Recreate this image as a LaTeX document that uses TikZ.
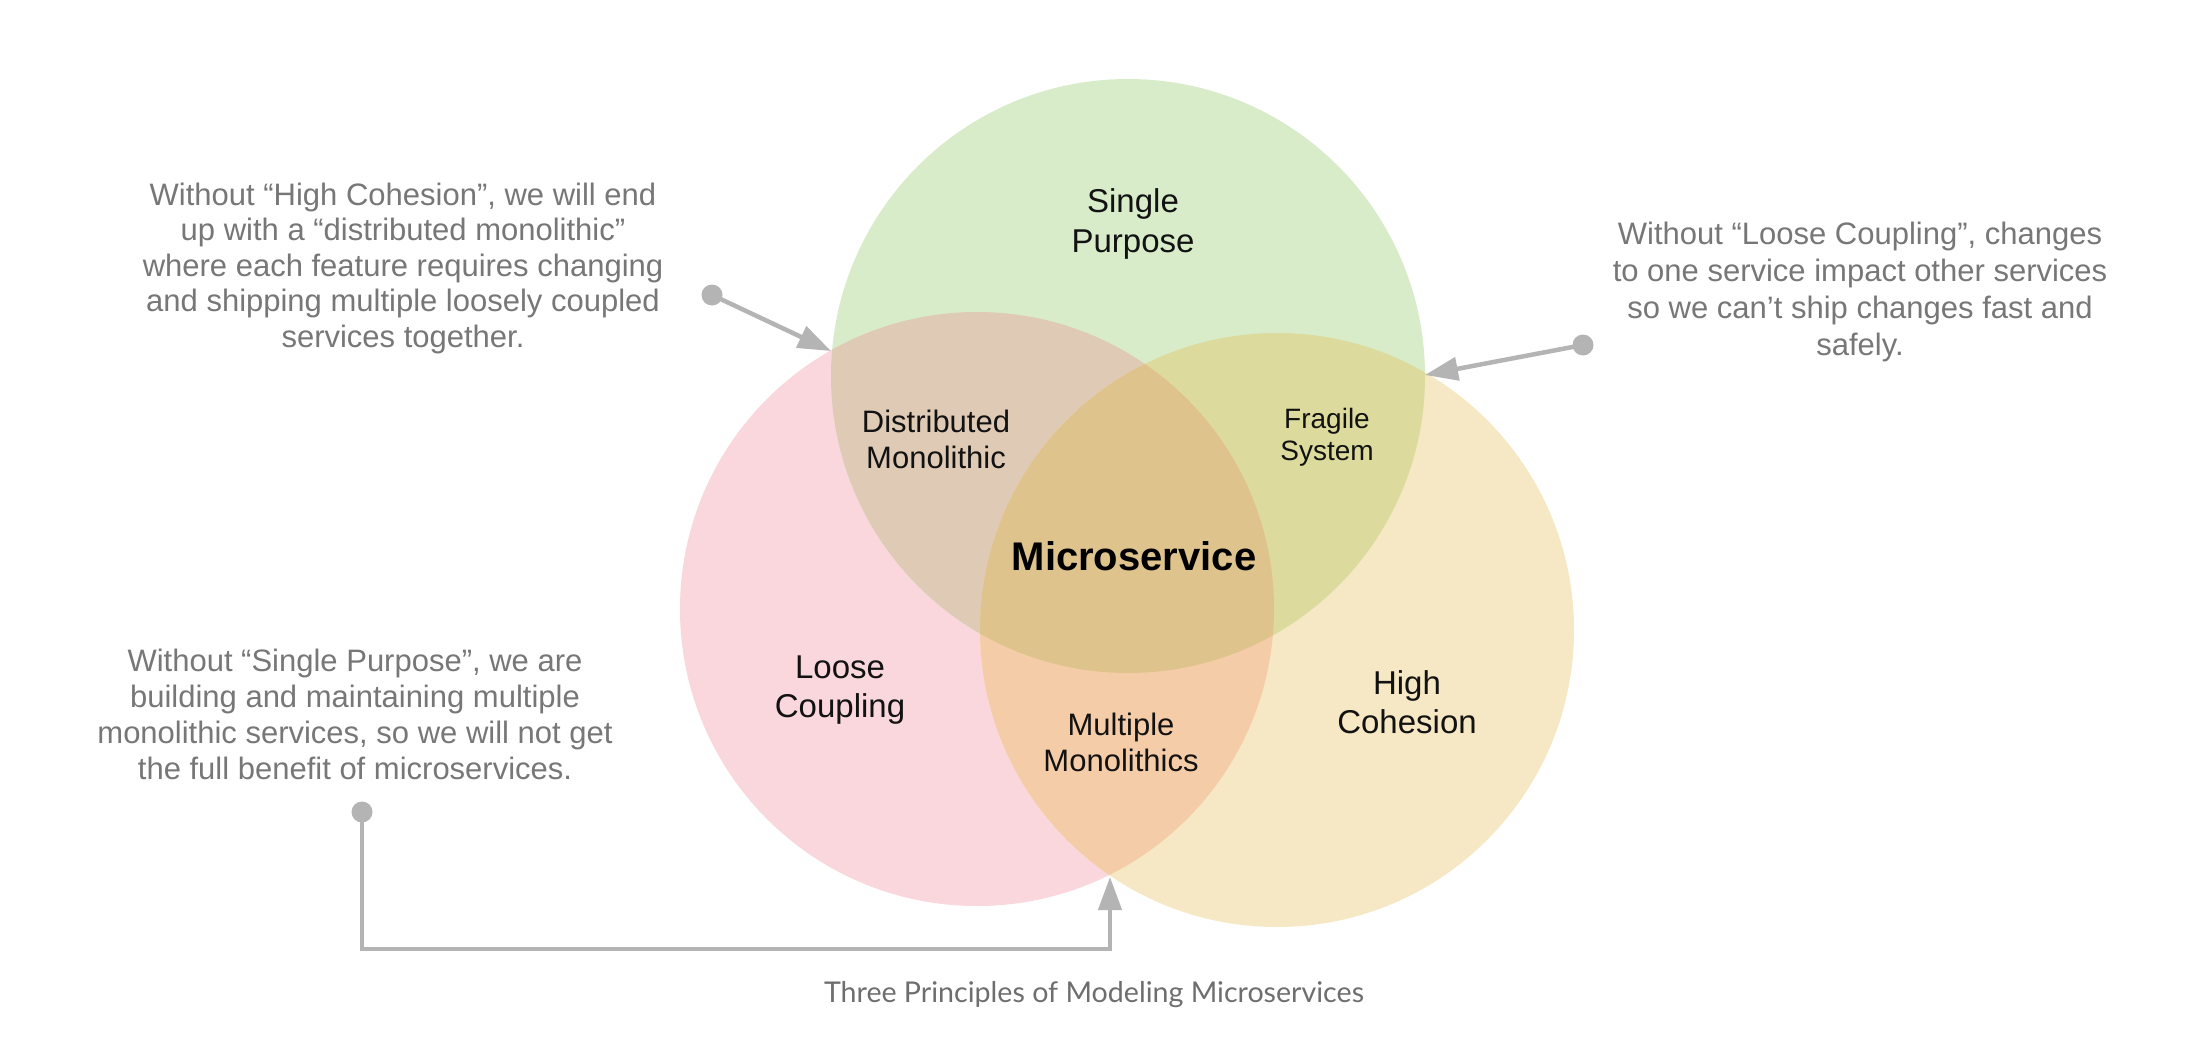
\documentclass[tikz,border=0pt]{standalone}
\usepackage{fontspec}
\setmainfont{Liberation Sans}
\newfontfamily\capfont{Lato}
\usetikzlibrary{arrows.meta}

\definecolor{grnc}{HTML}{D8ECCA}
\definecolor{pnkc}{HTML}{FAD7DC}
\definecolor{ylwc}{HTML}{F6E8C4}
\definecolor{gpc}{HTML}{DFCAB5}
\definecolor{gyc}{HTML}{DCDB9D}
\definecolor{pyc}{HTML}{F4CDA8}
\definecolor{allc}{HTML}{DFC38C}
\definecolor{notec}{HTML}{777777}
\definecolor{connc}{HTML}{B4B4B4}
\definecolor{capc}{HTML}{6E6E6E}

% multi-line nodes are placed by the baseline of their last line
\tikzset{
  setlabel/.style={inner sep=0pt, anchor=base, align=center, text=black!93,
    font=\fontsize{33}{39.5}\selectfont},
  overlabel/.style={inner sep=0pt, anchor=base, align=center, text=black!93,
    font=\fontsize{31}{35.5}\selectfont},
  note/.style={inner sep=0pt, anchor=base, align=center, text=notec,
    font=\fontsize{31}{36}\selectfont},
  conn/.style={draw=connc, line width=4.5pt, -{Triangle[length=33pt,width=23pt]}},
  dot/.style={fill=connc},
}

\begin{document}
\begin{tikzpicture}[x=1pt, y=-1pt]
  \useasboundingbox[fill=white] (0,0) rectangle (2194,1038);

  % circle centres
  \coordinate (G) at (1128,376);
  \coordinate (P) at (977,609);
  \coordinate (Y) at (1277,630);
  \def\rr{297pt}

  % single regions
  \fill[pnkc] (P) circle[radius=\rr];
  \fill[ylwc] (Y) circle[radius=\rr];
  \fill[grnc] (G) circle[radius=\rr];
  % pairwise overlaps
  \begin{scope}
    \clip (G) circle[radius=\rr];
    \fill[gpc] (P) circle[radius=\rr];
    \fill[gyc] (Y) circle[radius=\rr];
  \end{scope}
  \begin{scope}
    \clip (P) circle[radius=\rr];
    \fill[pyc] (Y) circle[radius=\rr];
  \end{scope}
  % centre overlap
  \begin{scope}
    \clip (G) circle[radius=\rr];
    \clip (P) circle[radius=\rr];
    \fill[allc] (Y) circle[radius=\rr];
  \end{scope}

  % set labels
  \node[setlabel] (sp) at (1133,252) {Single\\Purpose};
  \node[setlabel, font=\fontsize{33}{38.7}\selectfont] (lc) at (840,717) {Loose\\Coupling};
  \node[setlabel, font=\fontsize{33}{39}\selectfont] (hc) at (1407,733) {High\\Cohesion};
  \node[overlabel] (dm) at (936,468) {Distributed\\Monolithic};
  \node[overlabel, font=\fontsize{28}{32}\selectfont] (fs) at (1327,460) {Fragile\\System};
  \node[overlabel] (mm) at (1121,771) {Multiple\\Monolithics};
  \node[inner sep=0pt, anchor=base, text=black, font=\bfseries\fontsize{40}{44}\selectfont] (ms) at (1134,570) {Microservice};

  % notes
  \node[note, font=\fontsize{31}{35.5}\selectfont] (n1) at (403,347)
    {Without “High Cohesion”, we will end\\up with a “distributed monolithic”\\where each feature requires changing\\and shipping multiple loosely coupled\\services together.};
  \node[note, font=\fontsize{31}{36.7}\selectfont] (n2) at (1860,355)
    {Without “Loose Coupling”, changes\\to one service impact other services\\so we can’t ship changes fast and\\safely.};
  \node[note, font=\fontsize{31}{35.8}\selectfont] (n3) at (355,779)
    {Without “Single Purpose”, we are\\building and maintaining multiple\\monolithic services, so we will not get\\the full benefit of microservices.};

  % connector ends
  \coordinate (d1) at (712,295);
  \coordinate (t1) at (831,351);
  \coordinate (d2) at (1583,345);
  \coordinate (t2) at (1425,375);
  \coordinate (d3) at (362,812);
  \coordinate (b3) at (1110,949);
  \coordinate (t3) at (1110,877);

  \draw[conn] (d1) -- (t1);
  \draw[conn] (d2) -- (t2);
  \draw[conn, line join=miter] (d3) |- (b3) -- (t3);
  \fill[dot] (d1) circle[radius=10.5pt];
  \fill[dot] (d2) circle[radius=10.5pt];
  \fill[dot] (d3) circle[radius=10.5pt];

  % caption
  \node[inner sep=0pt, anchor=base, text=capc, font=\capfont\fontsize{28.6}{32}\selectfont] (cap) at (1094,1002)
    {Three Principles of Modeling Microservices};
\end{tikzpicture}
\end{document}
